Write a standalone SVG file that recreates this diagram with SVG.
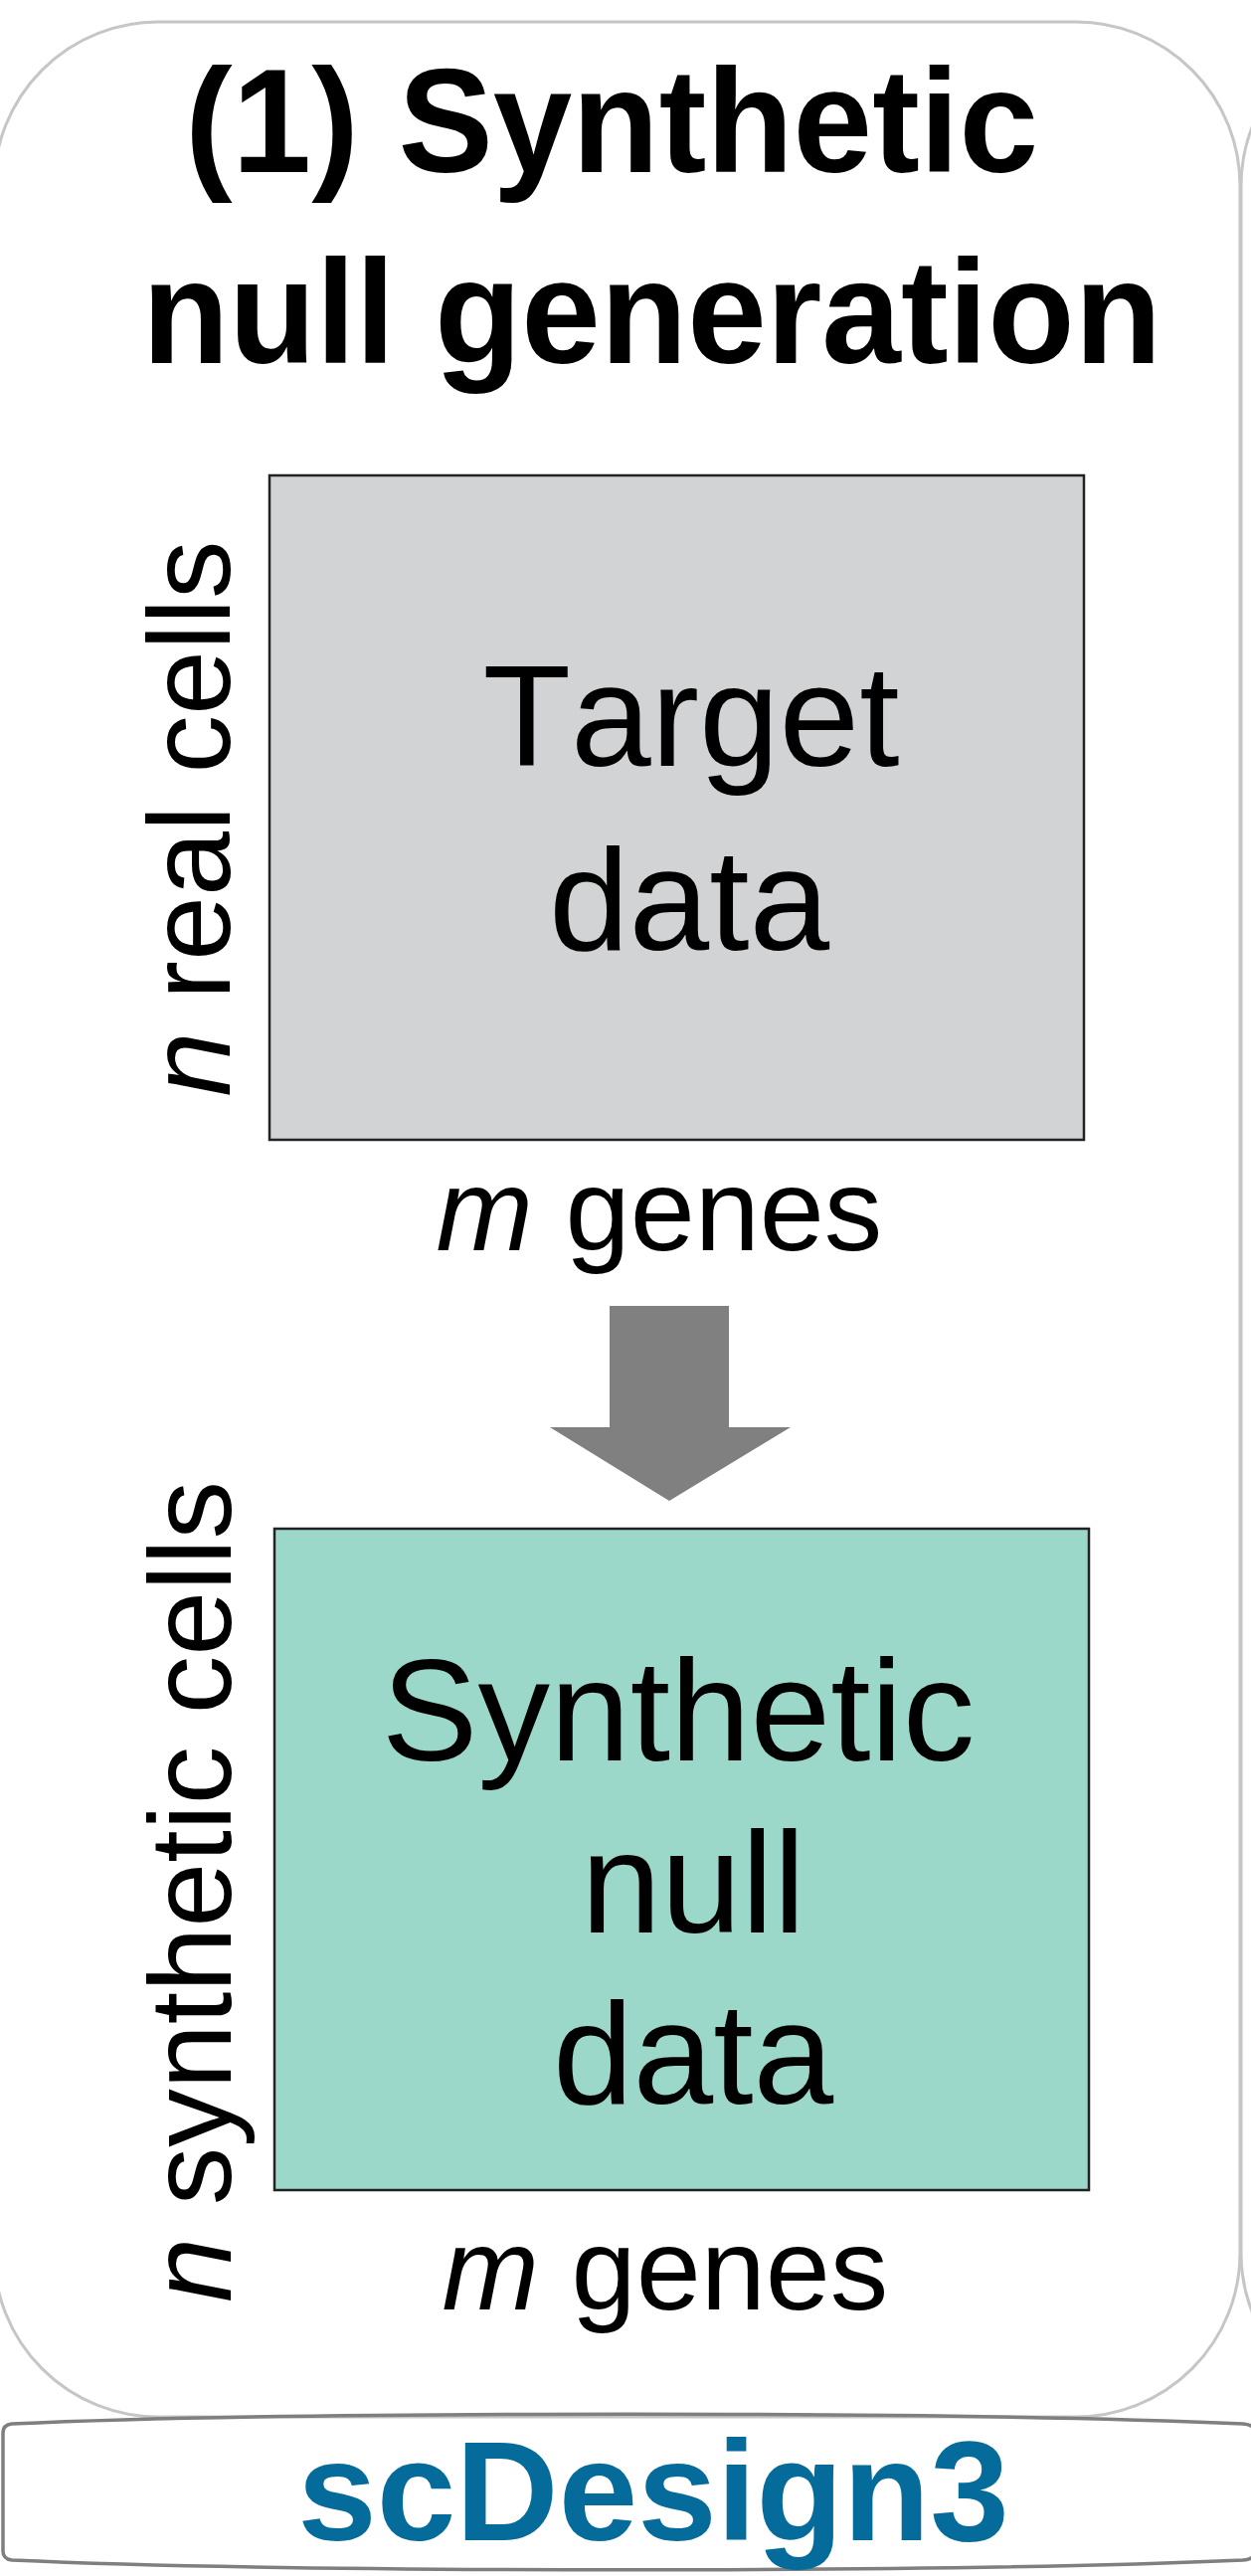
<svg xmlns="http://www.w3.org/2000/svg" width="1258" height="2590" viewBox="0 0 1258 2590">
  <style>
    .panel { fill: none; stroke: #c6c6c6; stroke-width: 3; }
    .box { stroke: #222; stroke-width: 2.5; }
    .big { font-family: "Liberation Sans", Arial, sans-serif; font-size: 145px; fill: #000; font-kerning: none; }
    .lab { font-family: "Liberation Sans", Arial, sans-serif; font-size: 117px; fill: #000; }
    .title { font-family: "Liberation Sans", Arial, sans-serif; font-size: 149px; font-weight: bold; fill: #000; }
  </style>
  <rect width="1258" height="2590" fill="#ffffff"/>
  <g id="panel">
    <rect class="panel" x="-6" y="22" width="1253" height="2408" rx="165" ry="165"/>
    <rect class="panel" x="1248" y="22" width="1253" height="2408" rx="165" ry="165"/>
  </g>
  <g id="title">
    <text class="title" x="186" y="173" textLength="858" lengthAdjust="spacingAndGlyphs">(1) Synthetic</text>
    <text class="title" x="143" y="365" textLength="1025" lengthAdjust="spacingAndGlyphs">null generation</text>
  </g>
  <g id="target">
    <rect class="box" x="271" y="478" width="819" height="668" fill="#d1d3d4"/>
    <text class="big" x="695" y="770" text-anchor="middle">Target</text>
    <text class="big" x="693" y="955" text-anchor="middle">data</text>
    <text class="lab" transform="translate(231,823) rotate(-90)" text-anchor="middle"><tspan font-style="italic">n</tspan> real cells</text>
    <text class="lab" x="663" y="1257" text-anchor="middle"><tspan font-style="italic">m</tspan> genes</text>
  </g>
  <g id="connectors">
    <polygon points="613,1313 733,1313 733,1435 795,1435 673,1509 553,1435 613,1435" fill="#808080"/>
  </g>
  <g id="synthetic">
    <rect class="box" x="276" y="1537" width="819" height="665" fill="#9cd8c9"/>
    <text class="big" x="682" y="1770" text-anchor="middle">Synthetic</text>
    <text class="big" x="697" y="1943" text-anchor="middle">null</text>
    <text class="big" x="697" y="2115" text-anchor="middle">data</text>
    <text class="lab" transform="translate(232,1902) rotate(-90)" text-anchor="middle"><tspan font-style="italic">n</tspan> synthetic cells</text>
    <text class="lab" x="669" y="2322" text-anchor="middle"><tspan font-style="italic">m</tspan> genes</text>
  </g>
  <g id="scdesign3">
    <path d="M3,2446 Q3,2438 12,2437 C300,2424 962,2424 1250,2437 Q1262,2438 1262,2446 L1262,2565 Q1262,2573 1250,2574 C962,2587 300,2587 12,2574 Q3,2573 3,2565 Z" fill="none" stroke="#7f7f7f" stroke-width="3.5"/>
    <text x="657" y="2554" text-anchor="middle" font-family="'Liberation Sans', Arial, sans-serif" font-size="143" font-weight="bold" fill="#056b9a">scDesign3</text>
  </g>
</svg>
